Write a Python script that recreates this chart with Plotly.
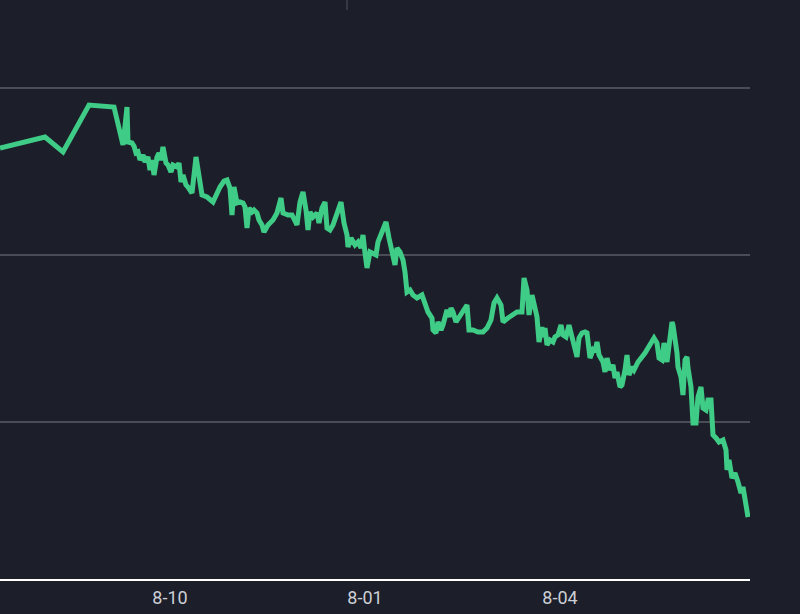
import plotly.graph_objects as go

# time position (x) and value (y)
t = [0, 45, 63, 89, 114, 123, 127, 128, 132, 134, 136, 138, 140, 143, 145, 148, 150, 152, 154, 157,
     159, 161, 163, 166, 168, 171, 173, 177, 179, 181, 183, 186, 188, 192, 196, 199, 202, 207, 213, 220,
     224, 227, 230, 232, 234, 237, 240, 243, 245, 247, 249, 252, 254, 257, 259, 262, 264, 268, 273, 277,
     281, 283, 288, 292, 295, 297, 300, 303, 306, 308, 310, 313, 317, 319, 322, 325, 327, 330, 333, 338,
     341, 344, 347, 348, 351, 355, 358, 361, 363, 365, 367, 370, 373, 376, 378, 382, 386, 389, 393, 395,
     397, 400, 403, 405, 407, 410, 413, 417, 422, 425, 428, 432, 433, 436, 438, 441, 443, 447, 449, 451,
     453, 456, 459, 463, 467, 469, 473, 478, 483, 487, 491, 494, 497, 501, 503, 508, 513, 517, 522, 524,
     527, 529, 532, 534, 537, 539, 542, 543, 545, 547, 550, 553, 555, 558, 561, 563, 566, 569, 572, 574,
     577, 579, 582, 585, 587, 590, 593, 595, 597, 599, 603, 605, 607, 610, 613, 615, 617, 620, 622, 625,
     627, 629, 632, 634, 638, 645, 650, 654, 657, 659, 662, 664, 667, 669, 672, 673, 675, 677, 678, 681,
     683, 685, 687, 688, 691, 693, 696, 698, 701, 703, 706, 708, 711, 713, 716, 719, 723, 726, 727, 729,
     732, 735, 738, 741, 743, 745, 748]

values = [441, 452, 437, 484, 482, 444, 482, 447, 446, 443, 436, 437, 429, 434, 427, 432, 419, 429, 414, 432,
          436, 429, 442, 426, 424, 417, 424, 422, 426, 407, 414, 404, 402, 396, 432, 416, 394, 392, 387, 402,
          408, 409, 401, 374, 402, 386, 387, 386, 382, 361, 381, 377, 379, 376, 369, 364, 357, 364, 369, 376,
          391, 376, 374, 374, 366, 364, 387, 397, 379, 359, 377, 372, 376, 366, 381, 387, 361, 359, 364, 379,
          387, 366, 354, 342, 351, 344, 347, 341, 354, 336, 321, 337, 336, 334, 347, 356, 367, 351, 336, 324,
          341, 337, 329, 317, 297, 299, 294, 291, 294, 287, 277, 271, 259, 256, 267, 259, 264, 279, 272, 281,
          277, 267, 272, 277, 284, 259, 259, 257, 257, 261, 269, 286, 291, 284, 267, 271, 274, 277, 277, 311,
          299, 274, 294, 286, 272, 247, 262, 252, 261, 244, 249, 247, 252, 254, 264, 254, 252, 264, 251, 242,
          232, 251, 256, 257, 256, 231, 239, 237, 247, 234, 227, 217, 231, 219, 224, 211, 217, 202, 204, 219,
          234, 214, 222, 219, 227, 236, 244, 251, 246, 231, 229, 246, 227, 242, 267, 264, 252, 236, 222, 212,
          194, 229, 232, 221, 202, 166, 166, 192, 202, 181, 179, 189, 189, 154, 151, 147, 149, 139, 119, 129,
          111, 116, 107, 96, 102, 87, 72]

tick_positions = [170, 365, 560]
tick_labels = ["8-10", "8-01", "8-04"]

BG = "rgb(28,30,41)"

fig = go.Figure()
fig.add_trace(go.Scatter(
    x=t, y=values, mode="lines",
    line=dict(color="rgb(63,204,134)", width=5),
    hoverinfo="skip", showlegend=False,
))

fig.add_shape(type="line", xref="paper", yref="paper",
              x0=347 / 750, x1=347 / 750, y0=1, y1=1 - 10 / 579,
              line=dict(color="rgb(80,82,92)", width=1))

fig.update_layout(
    width=800, height=614,
    margin=dict(l=0, r=50, t=0, b=35),
    paper_bgcolor=BG, plot_bgcolor=BG,
    font=dict(family="Roboto", size=18, color="rgb(205,207,214)"),
)
fig.update_xaxes(
    range=[0, 750], tickvals=tick_positions, ticktext=tick_labels,
    showgrid=False, zeroline=False,
    showline=True, linecolor="white", linewidth=2,
    ticks="outside", ticklen=1, tickcolor=BG,
)
fig.update_yaxes(
    range=[10, 589], tick0=0, dtick=167,
    showgrid=True, gridcolor="rgb(74,76,86)", gridwidth=2,
    zeroline=False, showticklabels=False, showline=False,
)

fig.write_html(
    "out.html",
    config={"displayModeBar": False, "staticPlot": True},
    post_script="document.body.style.margin='0';document.body.style.overflow='hidden';"
                "document.body.style.background='" + BG + "';",
)
